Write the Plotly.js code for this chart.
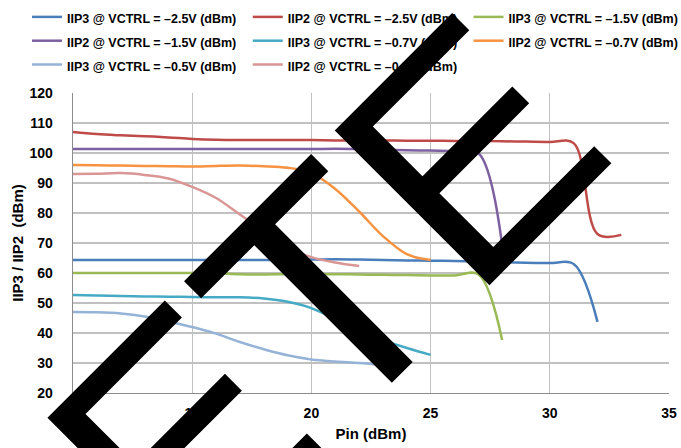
<!DOCTYPE html>
<html>
<head>
<meta charset="utf-8">
<script src="https://cdn.plot.ly/plotly-3.0.1.min.js"></script>
<style>
  html, body { margin: 0; padding: 0; background: #fff; }
  #chart { width: 681px; height: 448px; }
</style>
</head>
<body>
<div id="chart"></div>
<script>
// Series names (legend order)
const seriesNames = [
  "IIP3 @ VCTRL = \u20132.5V (dBm)",
  "IIP2 @ VCTRL = \u20132.5V (dBm)",
  "IIP3 @ VCTRL = \u20131.5V (dBm)",
  "IIP2 @ VCTRL = \u20131.5V (dBm)",
  "IIP3 @ VCTRL = \u20130.7V (dBm)",
  "IIP2 @ VCTRL = \u20130.7V (dBm)",
  "IIP3 @ VCTRL = \u20130.5V (dBm)",
  "IIP2 @ VCTRL = \u20130.5V (dBm)"
];

// Input power sweeps (dBm)
const pinTo33 = [10,11,12,13,14,15,16,17,18,19,20,21,22,23,24,25,26,27,28,29,30,31,32,33];
const pinTo32 = [10,11,12,13,14,15,16,17,18,19,20,21,22,23,24,25,26,27,28,29,30,31,32];
const pinTo28 = [10,11,12,13,14,15,16,17,18,19,20,21,22,23,24,25,26,27,28];
const pinTo25 = [10,11,12,13,14,15,16,17,18,19,20,21,22,23,24,25];
const pinTo23 = [10,11,12,13,14,15,16,17,18,19,20,21,22,23];
const pinTo22 = [10,11,12,13,14,15,16,17,18,19,20,21,22];

// Measured IIP3 / IIP2 (dBm)
const iip3_m25 = [64.3,64.3,64.3,64.3,64.3,64.3,64.3,64.3,64.3,64.4,64.5,64.6,64.5,64.3,64.2,64.1,64.0,63.8,63.6,63.4,63.3,63.0,43.7];
const iip2_m25 = [107.0,106.3,105.9,105.6,105.2,104.7,104.4,104.3,104.3,104.3,104.3,104.2,104.2,104.2,104.1,104.1,104.0,104.0,103.9,103.8,103.7,103.3,73.0,72.7];
const iip3_m15 = [60.0,60.0,60.0,60.0,60.0,60.0,59.9,59.6,59.5,59.6,59.6,59.6,59.5,59.4,59.3,59.2,59.2,59.6,37.7];
const iip2_m15 = [101.3,101.3,101.3,101.3,101.3,101.3,101.3,101.3,101.3,101.3,101.3,101.4,101.3,101.1,100.9,100.8,100.7,100.0,69.3];
const iip3_m07 = [52.7,52.5,52.3,52.2,52.1,52.0,51.9,51.9,51.5,50.4,48.3,44.6,41.0,37.6,35.0,32.7];
const iip2_m07 = [96.0,95.9,95.8,95.7,95.6,95.5,95.7,95.8,95.6,95.1,93.4,88.0,80.5,72.3,66.3,64.3];
const iip3_m05 = [47.0,46.9,46.5,45.5,43.8,42.0,39.8,37.0,34.6,32.6,31.2,30.5,30.0,29.3];
const iip2_m05 = [93.0,93.1,93.3,92.7,91.5,88.7,85.0,79.5,74.0,68.5,65.3,63.5,62.3];

const xSets = [pinTo32, pinTo33, pinTo28, pinTo28, pinTo25, pinTo25, pinTo23, pinTo22];
const ySets = [iip3_m25, iip2_m25, iip3_m15, iip2_m15, iip3_m07, iip2_m07, iip3_m05, iip2_m05];
const colors = ["#4A7EBB", "#BE4B48", "#98B954", "#7D60A0", "#46AAC5", "#F69240", "#95B3D7", "#D99694"];

const xTicks = [10, 15, 20, 25, 30, 35];
const yTicks = [20, 30, 40, 50, 60, 70, 80, 90, 100, 110, 120];

const FONT = "'Liberation Sans', Arial, sans-serif";

// legend entry widths (fraction of the legend's available width);
// the last entry of each row gets extra room so its label is not clipped
const ENTRY_W = 0.2852;
const LAST_ENTRY_W = 0.33;
const lastInRow = [2, 5];

const traces = seriesNames.map((name, i) => ({
  type: "scatter",
  mode: "lines",
  name: '<span style="font-size:12.5px">' + name + '</span>',
  legendwidth: lastInRow.includes(i) ? LAST_ENTRY_W : ENTRY_W,
  x: xSets[i],
  y: ySets[i],
  line: { color: colors[i], width: 2.5, shape: "spline", smoothing: 1 },
  hoverinfo: "skip"
}));

const layout = {
  width: 681,
  height: 448,
  paper_bgcolor: "#ffffff",
  plot_bgcolor: "#ffffff",
  margin: { l: 73, r: 12, t: 93, b: 55, pad: 0, autoexpand: false },
  font: { family: FONT, color: "#000" },
  showlegend: true,
  legend: {
    orientation: "h",
    xref: "paper", yref: "paper",
    x: -0.0772, xanchor: "left",
    y: 1.31, yanchor: "top",
    font: { family: FONT, size: 16, color: "#000", weight: "bold" },
    entrywidth: ENTRY_W, entrywidthmode: "fraction",
    itemwidth: 30,
    traceorder: "normal",
    bgcolor: "rgba(0,0,0,0)",
    borderwidth: 0
  },
  xaxis: {
    range: [10, 35],
    tickmode: "array", tickvals: xTicks, ticktext: xTicks.map(String),
    showgrid: true, gridcolor: "#c0c0c0", gridwidth: 1.3,
    showline: true, linecolor: "#8c8c8c", linewidth: 1.3,
    zeroline: false, ticks: "",
    ticklabelstandoff: 7,
    tickfont: { family: FONT, size: 14, color: "#000", weight: "bold" },
    title: { text: "Pin (dBm)", font: { family: FONT, size: 15, color: "#000", weight: "bold" }, standoff: 8 },
    fixedrange: true
  },
  yaxis: {
    range: [20, 120],
    tickmode: "array", tickvals: yTicks, ticktext: yTicks.map(String),
    showgrid: true, gridcolor: "#c0c0c0", gridwidth: 1.3,
    showline: true, linecolor: "#8c8c8c", linewidth: 1.3,
    zeroline: false, ticks: "",
    ticklabelstandoff: 16,
    tickfont: { family: FONT, size: 14, color: "#000", weight: "bold" },
    title: { text: "IIP3 / IIP2 \u00a0(dBm)", font: { family: FONT, size: 15, color: "#000", weight: "bold" }, standoff: 2 },
    fixedrange: true
  },
  annotations: [{
    text: "OBSOLETE",
    xref: "paper", yref: "paper",
    x: -0.2282, y: -0.963,
    xanchor: "center", yanchor: "middle",
    showarrow: false,
    textangle: -45,
    font: { family: FONT, size: 318, color: "#000" }
  }]
};

Plotly.newPlot("chart", traces, layout, { displayModeBar: false, staticPlot: true });
</script>
</body>
</html>
